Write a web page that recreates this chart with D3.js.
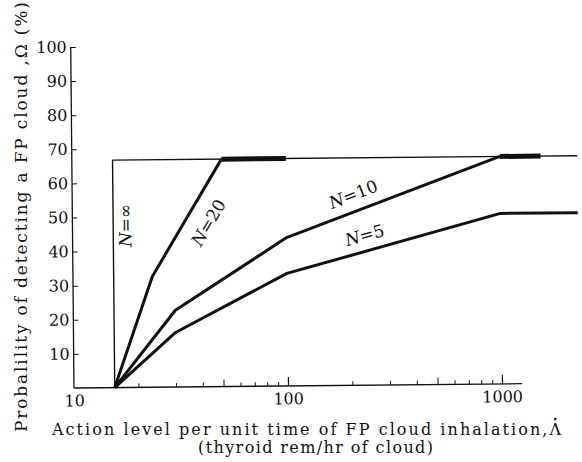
<!DOCTYPE html>
<html>
<head>
<meta charset="utf-8">
<script src="https://cdn.jsdelivr.net/npm/d3@7"></script>
<style>
  html, body { margin: 0; padding: 0; background: #fff; }
  svg { display: block; }
  text { font-family: "DejaVu Serif", "Liberation Serif", serif; fill: #111; }
</style>
</head>
<body>
<svg id="chart" width="582" height="462"></svg>
<script>
// Detection probability curves, one per number of monitors N
const nInfX = [15.5, 15.5, 2300];
const nInfY = [0, 66.7, 66.7];
const n20X = [15.5, 23.5, 50];
const n20Y = [0, 32.5, 66.7];
const n20PlateauX = [50, 100];
const n20PlateauY = [66.7, 66.7];
const n10X = [15.5, 30, 100, 1000];
const n10Y = [0, 22.5, 43.5, 66.7];
const n10PlateauX = [1000, 1550];
const n10PlateauY = [66.7, 66.7];
const n5X = [15.5, 30, 100, 1000, 2300];
const n5Y = [0, 16, 33, 50, 50];

// Axis ticks
const xMajorTicks = [10, 100, 1000];
const xMidTicks = [50, 500];
const xMinorTicks = [20, 30, 40, 60, 70, 80, 90, 200, 300, 400, 600, 700, 800, 900];
const xAxisEnd = 1240;
const yTicks = [10, 20, 30, 40, 50, 60, 70, 80, 90, 100];

const FONT = "DejaVu Serif, Liberation Serif, serif";
const svg = d3.select("#chart");
const origin = [74, 388];

const x = d3.scaleLog().domain([10, 1000]).range([74, 502]);
const y = d3.scaleLinear().domain([0, 100]).range([388, 47]);

// the printed figure sits slightly askew on the page
const g = svg.append("g")
  .attr("transform", `rotate(-0.55, ${origin[0]}, ${origin[1]})`);

// ---- x axis ----
g.append("line")
  .attr("x1", x(10)).attr("x2", x(xAxisEnd))
  .attr("y1", y(0)).attr("y2", y(0))
  .attr("stroke", "#111").attr("stroke-width", 1.3);

const xMajor = g.append("g").attr("transform", `translate(0,${y(0)})`)
  .call(d3.axisBottom(x).tickValues(xMajorTicks).tickSize(-9).tickPadding(7)
    .tickFormat(d3.format("d")));
xMajor.attr("font-family", FONT);
xMajor.select(".domain").remove();
xMajor.selectAll("text").attr("font-size", 16).attr("fill", "#111");
xMajor.selectAll("line").attr("stroke", "#111").attr("stroke-width", 1.2);
xMajor.selectAll(".tick").filter(d => d === 10).select("line").remove();

const xMid = g.append("g").attr("transform", `translate(0,${y(0)})`)
  .call(d3.axisBottom(x).tickValues(xMidTicks).tickSize(-7).tickFormat(""));
xMid.select(".domain").remove();
xMid.selectAll("line").attr("stroke", "#111").attr("stroke-width", 1);

const xMinor = g.append("g").attr("transform", `translate(0,${y(0)})`)
  .call(d3.axisBottom(x).tickValues(xMinorTicks).tickSize(-4).tickFormat(""));
xMinor.select(".domain").remove();
xMinor.selectAll("line").attr("stroke", "#111").attr("stroke-width", 1);

// ---- y axis ----
g.append("line")
  .attr("x1", x(10)).attr("x2", x(10))
  .attr("y1", y(0)).attr("y2", y(100))
  .attr("stroke", "#111").attr("stroke-width", 1.3);

const yAxis = g.append("g").attr("transform", `translate(${x(10)},0)`)
  .call(d3.axisLeft(y).tickValues(yTicks).tickSize(-5).tickPadding(4)
    .tickFormat(d3.format("d")));
yAxis.attr("font-family", FONT);
yAxis.select(".domain").remove();
yAxis.selectAll("text").attr("font-size", 16).attr("fill", "#111");
yAxis.selectAll("line").attr("stroke", "#111").attr("stroke-width", 1);

// ---- curves ----
const line = d3.line().x(d => x(d[0])).y(d => y(d[1]));
const pts = (xs, ys) => xs.map((v, i) => [v, ys[i]]);

function curve(xs, ys, w) {
  g.append("path")
    .attr("d", line(pts(xs, ys)))
    .attr("fill", "none")
    .attr("stroke", "#111")
    .attr("stroke-width", w)
    .attr("stroke-linejoin", "round");
}

curve(nInfX, nInfY, 1.4);
curve(n20X, n20Y, 3);
curve(n20PlateauX, n20PlateauY, 5);
curve(n10X, n10Y, 3);
curve(n10PlateauX, n10PlateauY, 5);
curve(n5X, n5Y, 3);

// ---- curve labels ----
function nLabel(cx, cy, angle, value) {
  const t = g.append("text")
    .attr("transform", `translate(${cx},${cy}) rotate(${angle})`)
    .attr("text-anchor", "middle")
    .attr("dy", "0.35em")
    .attr("font-family", FONT)
    .attr("font-size", 17);
  t.append("tspan").attr("font-style", "italic").text("N");
  t.append("tspan").text("=" + value);
}

nLabel(127, 226, -90, "∞");
nLabel(210, 224, -59, "20");
nLabel(355, 197, -21, "10");
nLabel(366, 238, -15, "5");

// ---- axis titles ----
const xTitle = svg.append("text")
  .attr("x", 52).attr("y", 435)
  .attr("font-family", FONT)
  .attr("font-size", 16)
  .attr("textLength", 509)
  .attr("lengthAdjust", "spacing")
  .text("Action level per unit time of FP cloud inhalation,\u039B");

// rate dot over the final Λ
{
  const node = xTitle.node();
  const last = node.getNumberOfChars() - 1;
  const a = node.getStartPositionOfChar(last);
  const b = node.getEndPositionOfChar(last);
  svg.append("circle")
    .attr("cx", (a.x + b.x) / 2).attr("cy", 419)
    .attr("r", 1.3)
    .attr("fill", "#111");
}

svg.append("text")
  .attr("x", 198).attr("y", 453)
  .attr("font-family", FONT)
  .attr("font-size", 16)
  .attr("textLength", 235)
  .attr("lengthAdjust", "spacing")
  .text("(thyroid rem/hr of cloud)");

svg.append("text")
  .attr("transform", "translate(27,432) rotate(-90)")
  .attr("font-family", FONT)
  .attr("font-size", 17)
  .attr("textLength", 430)
  .attr("lengthAdjust", "spacing")
  .text("Probalility of detecting a FP cloud ,\u03A9 (%)");
</script>
</body>
</html>
